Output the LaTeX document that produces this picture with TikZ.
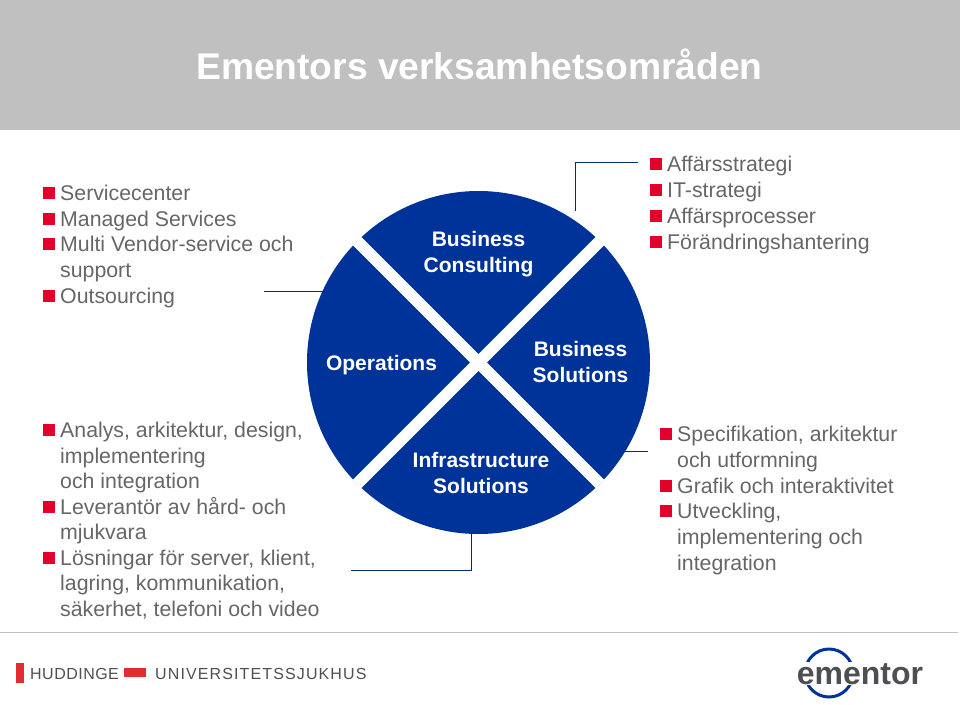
\documentclass[tikz,border=0pt]{standalone}
\usepackage{fontspec}
\setmainfont{Liberation Sans}
\definecolor{banner}{HTML}{C0C0C0}
\definecolor{wheelblue}{HTML}{003399}
\definecolor{bulletred}{HTML}{E3002B}
\definecolor{greytext}{HTML}{666666}
\definecolor{logored}{HTML}{E32B33}
\definecolor{logogrey}{HTML}{4D4F53}
\tikzset{
  sector/.style={font=\fontsize{21}{26}\selectfont\bfseries,text=white,align=center,inner sep=0pt},
  item/.style={font=\fontsize{21.3}{25.7}\selectfont,text=greytext,anchor=base west,inner sep=0pt},
  bulletbox/.style={fill=bulletred,minimum size=12pt,inner sep=0pt,anchor=south west},
  link/.style={draw=wheelblue!80!black,line width=1pt},
  gap/.style={draw=white,line width=12pt}
}
\begin{document}
\begin{tikzpicture}[x=1pt,y=-1pt]
\useasboundingbox (0,0) rectangle (960,704);
% header
\fill[banner] (0,0) rectangle (960,130);
\node[anchor=base west,inner sep=0pt,text=white,font=\fontsize{37.2}{40}\selectfont\bfseries] (title) at (196,79) {Ementors verksamhetsområden};
% wheel
\node[circle,fill=wheelblue,minimum size=343pt,inner sep=0pt] (wheel) at (478.5,362.5) {};
\draw[gap] (wheel.45) -- (wheel.225);
\draw[gap] (wheel.135) -- (wheel.315);
\node[sector] (consulting) at (478.5,254) {Business\\Consulting};
\node[sector] (operations) at (381.5,365) {Operations};
\node[sector] (solutions) at (580.5,362) {Business\\Solutions};
\node[sector] (infra) at (481,472.5) {Infrastructure\\Solutions};
% connectors
\coordinate (topstart) at (575.5,211);
\coordinate (topbend) at (575.5,162);
\coordinate (topend) at (638,162);
\coordinate (leftend) at (264,291);
\coordinate (leftstart) at (325,291);
\coordinate (botstart) at (471,533);
\coordinate (botbend) at (471,570);
\coordinate (botend) at (351,570);
\coordinate (rightstart) at (625,451);
\coordinate (rightend) at (648,451);
\draw[link] (topstart) -- (topbend) -- (topend);
\draw[link] (leftend) -- (leftstart);
\draw[link] (botstart) -- (botbend) -- (botend);
\draw[link] (rightstart) -- (rightend);
% top left
\foreach \n/\y/\t in {a/200/Servicecenter,b/226/Managed Services,c/251/Multi Vendor-service och,d/277/support,e/303/Outsourcing}
\node[item] (tl\n) at (60,\y) {\t};
\foreach \y in {199,225,250,302}
\node[bulletbox] at (43,\y) {};
% top right
\foreach \n/\y/\t in {a/171/Affärsstrategi,b/197/IT-strategi,c/223/Affärsprocesser,d/249/Förändringshantering}
\node[item] (tr\n) at (667,\y) {\t};
\foreach \y in {170,196,222,248}
\node[bulletbox] at (650,\y) {};
% bottom left
\foreach \n/\y/\t in {a/437/{Analys, arkitektur, design,},b/463/implementering,c/488/och integration,d/514/Leverantör av hård- och,e/539/mjukvara,f/565/{Lösningar för server, klient,},g/590/{lagring, kommunikation,},h/616/{säkerhet, telefoni och video}}
\node[item] (bl\n) at (60,\y) {\t};
\foreach \y in {436,513,564}
\node[bulletbox] at (43,\y) {};
% bottom right
\foreach \n/\y/\t in {a/441/{Specifikation, arkitektur},b/467/och utformning,c/493/Grafik och interaktivitet,d/518/{Utveckling,},e/544/implementering och,f/570/integration}
\node[item] (br\n) at (677,\y) {\t};
\foreach \y in {440,492,517}
\node[bulletbox] at (660,\y) {};
% footer
\draw[banner,line width=1pt] (0,632) -- (958,632);
\fill[logored] (16,663) rectangle (24,683);
\fill[logored] (124,668) rectangle (146,677);
\node[anchor=base west,inner sep=0pt,text=logogrey,font={\fontsize{16}{18}\selectfont\addfontfeatures{LetterSpace=3}}] (huddinge) at (30,679) {HUDDINGE};
\node[anchor=base west,inner sep=0pt,text=logogrey,font={\fontsize{16}{18}\selectfont\addfontfeatures{LetterSpace=7}}] (sjukhus) at (155,679) {UNIVERSITETSSJUKHUS};
\node[circle,draw=wheelblue,line width=3pt,minimum size=48pt,inner sep=0pt] (ring) at (829,673) {};
\node[anchor=base,inner sep=1pt,fill=white,text=logogrey,font=\fontsize{32}{36}\selectfont\bfseries] (ementor) at (860,684) {ementor};
\end{tikzpicture}
\end{document}
